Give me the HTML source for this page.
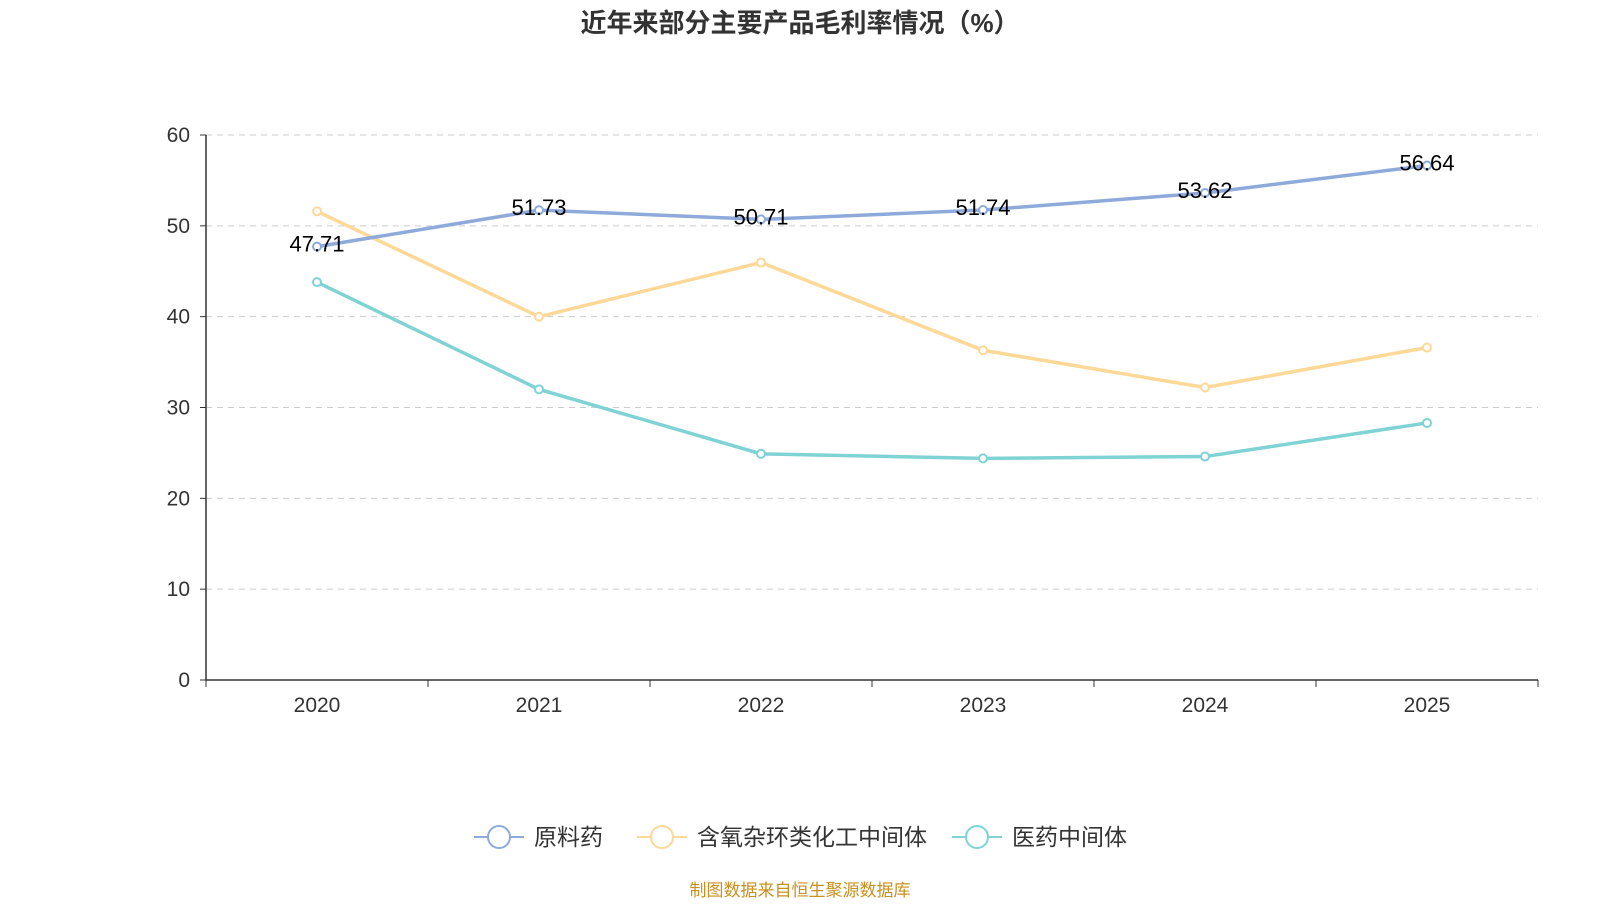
<!DOCTYPE html>
<html><head><meta charset="utf-8">
<style>
body{margin:0;background:#fff;font-family:"Liberation Sans","Noto Sans CJK SC",sans-serif;}
svg text{font-family:"Liberation Sans","Noto Sans CJK SC",sans-serif;}
</style></head>
<body>
<svg width="1600" height="900" viewBox="0 0 1600 900">
<text x="800" y="32" text-anchor="middle" font-size="26" font-weight="bold" fill="#333">近年来部分主要产品毛利率情况（%）</text>
<g id="grid"></g>
<g id="axes"></g>
<g id="series"></g>
<g id="legend"></g>
<text x="800" y="896" text-anchor="middle" font-size="17" fill="#c8901e">制图数据来自恒生聚源数据库</text>
</svg>
<script>
const categories=["2020","2021","2022","2023","2024","2025"];
const seriesNames=["原料药","含氧杂环类化工中间体","医药中间体"];
const apiValues=[47.71,51.73,50.71,51.74,53.62,56.64];
const intermediateOxValues=[51.6,40.0,45.96,36.3,32.2,36.6];
const pharmaIntValues=[43.8,32.0,24.9,24.4,24.6,28.3];
const yTicks=[0,10,20,30,40,50,60];
const colors=["#8eaadb","#fdd896","#7fd3d4"];
const NS="http://www.w3.org/2000/svg";
const X0=206,X1=1538,Y0=680,Y1=135;
const band=(X1-X0)/categories.length;
const xs=i=>X0+band*(i+0.5);
const ys=v=>Y0-(v/60)*(Y0-Y1);
function mk(tag,attrs,parent){const e=document.createElementNS(NS,tag);for(const k in attrs)e.setAttribute(k,attrs[k]);parent.appendChild(e);return e;}
const grid=document.getElementById('grid'),axes=document.getElementById('axes'),ser=document.getElementById('series'),leg=document.getElementById('legend');
yTicks.forEach(t=>{
 if(t>0){const l=mk('line',{x1:X0,x2:X1,y1:ys(t),y2:ys(t),stroke:'#ccc','stroke-dasharray':'6,5'},grid);
 
 }
 const tx=mk('text',{x:X0-16,y:ys(t)+7,'text-anchor':'end','font-size':21,fill:'#333'},axes);tx.textContent=t;
 
 
 mk('line',{x1:X0-6,x2:X0,y1:ys(t),y2:ys(t),stroke:'#333'},axes);
});
mk('line',{x1:X0,x2:X0,y1:Y1,y2:Y0,stroke:'#333','stroke-width':1.5},axes);
mk('line',{x1:X0,x2:X1,y1:Y0,y2:Y0,stroke:'#333','stroke-width':1.5},axes);
for(let i=0;i<=categories.length;i++)mk('line',{x1:X0+band*i,x2:X0+band*i,y1:Y0,y2:Y0+7,stroke:'#333'},axes);
categories.forEach((c,i)=>{const t=mk('text',{x:xs(i),y:Y0+32,'text-anchor':'middle','font-size':21,fill:'#333'},axes);t.textContent=c;
 
 });
const all=[apiValues,intermediateOxValues,pharmaIntValues];
[2,1,0].forEach(s=>{
 const vals=all[s];
 const p=mk('polyline',{points:vals.map((v,i)=>xs(i)+','+ys(v)).join(' '),fill:'none',stroke:colors[s],'stroke-width':3.5},ser);
 
 
 vals.forEach((v,i)=>{const c=mk('circle',{cx:xs(i),cy:ys(v),r:4,fill:'#fff',stroke:colors[s],'stroke-width':2},ser);
  
  
  if(s===0){const t=mk('text',{x:xs(i),y:ys(v)+5,'text-anchor':'middle','font-size':22,fill:'#000'},ser);t.textContent=v.toFixed(2);
   
   }
 });
});
const lx=[474,637,952];
seriesNames.forEach((n,s)=>{
 const g=mk('g',{},leg);
 
 
 mk('line',{x1:lx[s],x2:lx[s]+50,y1:837,y2:837,stroke:colors[s],'stroke-width':2},g);
 mk('circle',{cx:lx[s]+25,cy:837,r:11,fill:'#fff',stroke:colors[s],'stroke-width':2},g);
 const t=mk('text',{x:lx[s]+60,y:845,'font-size':23,fill:'#333'},g);t.textContent=n;
});
</script>
</body></html>
